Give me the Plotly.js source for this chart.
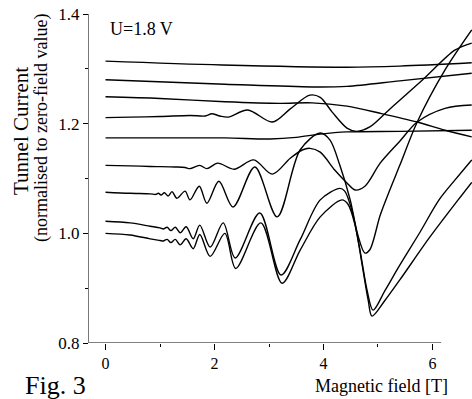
<!DOCTYPE html>
<html>
<head>
<meta charset="utf-8">
<script src="https://cdn.plot.ly/plotly-3.0.1.min.js"></script>
<style>html,body{margin:0;padding:0;background:#fff;}#chart{width:472px;height:399px;}</style>
</head>
<body>
<div id="chart"></div>
<script>
// Magnetic field [T] and normalised tunnel current for each trace (top to bottom at B=0)
const x1 = [0, 2.14, 4.43, 5.40, 6.72];
const y1 = [1.314, 1.307, 1.303, 1.305, 1.311];

const x2 = [0, 2.19, 3.79, 4.43, 5.40, 6.72];
const y2 = [1.280, 1.272, 1.267, 1.268, 1.278, 1.292];

const x3 = [0, 1.0, 2.19, 3.2, 3.79, 4.43, 5.04, 5.72, 6.23, 6.72];
const y3 = [1.249, 1.246, 1.240, 1.237, 1.238, 1.232, 1.219, 1.203, 1.188, 1.176];

const x4 = [0, 0.45, 1.0, 1.55, 1.83, 1.95, 2.10, 2.25, 2.61, 3.06, 3.39, 3.75, 3.94, 4.16, 4.43, 4.61, 4.85, 5.20, 5.81, 6.41, 6.72];
const y4 = [1.211, 1.212, 1.213, 1.215, 1.214, 1.218, 1.214, 1.212, 1.225, 1.203, 1.227, 1.252, 1.248, 1.221, 1.192, 1.186, 1.194, 1.225, 1.279, 1.334, 1.347];

const x5 = [0, 1.0, 2.19, 3.02, 3.5, 3.94, 4.43, 5.40, 6.72];
const y5 = [1.174, 1.174, 1.174, 1.172, 1.175, 1.181, 1.185, 1.186, 1.188];

const x6 = [0, 0.45, 0.82, 1.28, 1.46, 1.55, 1.73, 1.86, 2.06, 2.36, 2.72, 3.06, 3.39, 3.61, 3.75, 3.94, 4.21, 4.43, 4.58, 4.76, 5.04, 5.40, 5.72, 6.23, 6.72];
const y6 = [1.124, 1.123, 1.122, 1.121, 1.120, 1.118, 1.124, 1.118, 1.128, 1.117, 1.134, 1.108, 1.137, 1.152, 1.155, 1.148, 1.115, 1.092, 1.079, 1.086, 1.128, 1.168, 1.203, 1.228, 1.234];

const x7 = [0, 0.45, 0.82, 0.92, 0.97, 1.02, 1.08, 1.15, 1.22, 1.31, 1.46, 1.55, 1.72, 1.86, 2.08, 2.34, 2.74, 3.15, 3.57, 3.94, 4.12, 4.30, 4.49, 4.63, 4.76, 4.85, 5.04, 5.20, 5.40, 5.72, 6.23, 6.72];
const y7 = [1.075, 1.073, 1.072, 1.071, 1.073, 1.070, 1.074, 1.068, 1.076, 1.064, 1.077, 1.061, 1.086, 1.055, 1.095, 1.048, 1.121, 1.030, 1.152, 1.183, 1.170, 1.124, 1.061, 0.997, 0.964, 0.970, 1.033, 1.075, 1.124, 1.203, 1.298, 1.371];

const x8 = [0, 0.45, 0.82, 1.0, 1.06, 1.13, 1.20, 1.28, 1.37, 1.48, 1.61, 1.73, 1.92, 2.16, 2.38, 2.83, 3.22, 3.57, 3.94, 4.30, 4.39, 4.52, 4.67, 4.80, 4.91, 5.13, 5.40, 5.77, 6.12, 6.41, 6.72];
const y8 = [1.022, 1.019, 1.013, 1.010, 1.008, 1.011, 1.005, 1.011, 1.001, 1.012, 0.990, 1.015, 0.975, 1.019, 0.955, 1.037, 0.924, 0.988, 1.061, 1.082, 1.077, 1.042, 0.969, 0.896, 0.860, 0.896, 0.942, 1.002, 1.061, 1.097, 1.134];

const x9 = [0, 0.45, 0.82, 1.0, 1.06, 1.13, 1.20, 1.28, 1.37, 1.48, 1.61, 1.73, 1.92, 2.19, 2.39, 2.85, 3.24, 3.57, 3.94, 4.34, 4.45, 4.58, 4.71, 4.82, 4.89, 5.13, 5.40, 5.95, 6.47, 6.72];
const y9 = [1.000, 0.997, 0.990, 0.987, 0.986, 0.989, 0.983, 0.989, 0.979, 0.990, 0.972, 0.998, 0.958, 1.000, 0.936, 1.019, 0.909, 0.969, 1.030, 1.061, 1.053, 1.015, 0.942, 0.878, 0.849, 0.878, 0.915, 0.993, 1.061, 1.093];

const xTickVals = [0, 2, 4, 6];
const xTickText = ['0', '2', '4', '6'];
const yTickVals = [0.8, 1.0, 1.2, 1.4];
const yTickText = ['0.8', '1.0', '1.2', '1.4'];

const series = [[x1,y1],[x2,y2],[x3,y3],[x4,y4],[x5,y5],[x6,y6],[x7,y7],[x8,y8],[x9,y9]];
const traces = series.map(([x,y]) => ({
  x: x, y: y, type: 'scatter', mode: 'lines',
  line: {color: '#000', width: 1.4, shape: 'spline', smoothing: 0.9},
  hoverinfo: 'skip', showlegend: false
}));

const serif = 'Liberation Serif, Times New Roman, serif';
const layout = {
  width: 472, height: 399,
  margin: {l: 89, r: 0, t: 14, b: 56},
  paper_bgcolor: '#fff', plot_bgcolor: '#fff',
  showlegend: false,
  xaxis: {
    range: [-0.303, 6.725], showgrid: false, zeroline: false, showline: false,
    tickmode: 'array', tickvals: xTickVals, ticktext: xTickText,
    ticks: 'outside', ticklen: 6, tickwidth: 1, tickcolor: '#000',
    minor: {ticks: 'outside', ticklen: 3, dtick: 1, tick0: 0, tickcolor: '#000', tickwidth: 1, showgrid: false},
    tickfont: {family: serif, size: 16, color: '#000'}
  },
  yaxis: {
    range: [0.8, 1.4], showgrid: false, zeroline: false,
    showline: true, linecolor: '#777', linewidth: 1,
    tickmode: 'array', tickvals: yTickVals, ticktext: yTickText,
    ticks: 'outside', ticklen: 5, tickwidth: 1, tickcolor: '#000',
    minor: {ticks: 'outside', ticklen: 3, dtick: 0.1, tick0: 0.8, tickcolor: '#000', tickwidth: 1, showgrid: false},
    tickfont: {family: serif, size: 17, color: '#000'}
  },
  shapes: [
    {type: 'line', xref: 'x', yref: 'y', x0: -0.303, x1: 6.16, y0: 0.8, y1: 0.8,
     line: {color: '#000', width: 1}}
  ],
  annotations: [
    {text: 'U=1.8 V', xref: 'paper', yref: 'paper', x: (108-89)/383, y: 1-(29-14)/329,
     xanchor: 'left', yanchor: 'middle', showarrow: false, font: {family: serif, size: 18, color: '#000'}},
    {text: 'Tunnel Current', xref: 'paper', yref: 'paper', x: (21-89)/383, y: 1-(131-14)/329,
     xanchor: 'center', yanchor: 'middle', textangle: -90, showarrow: false, font: {family: serif, size: 21, color: '#000'}},
    {text: '(normalised to zero-field value)', xref: 'paper', yref: 'paper', x: (41-89)/383, y: 1-(128-14)/329,
     xanchor: 'center', yanchor: 'middle', textangle: -90, showarrow: false, font: {family: serif, size: 18, color: '#000'}},
    {text: 'Magnetic field [T]', xref: 'paper', yref: 'paper', x: (381-89)/383, y: 1-(386-14)/329,
     xanchor: 'center', yanchor: 'middle', showarrow: false, font: {family: serif, size: 18, color: '#000'}},
    {text: 'Fig. 3', xref: 'paper', yref: 'paper', x: (23-89)/383, y: 1-(385-14)/329,
     xanchor: 'left', yanchor: 'middle', showarrow: false, font: {family: serif, size: 26, color: '#000'}}
  ]
};

Plotly.newPlot('chart', traces, layout, {staticPlot: true, displayModeBar: false});
</script>
</body>
</html>
